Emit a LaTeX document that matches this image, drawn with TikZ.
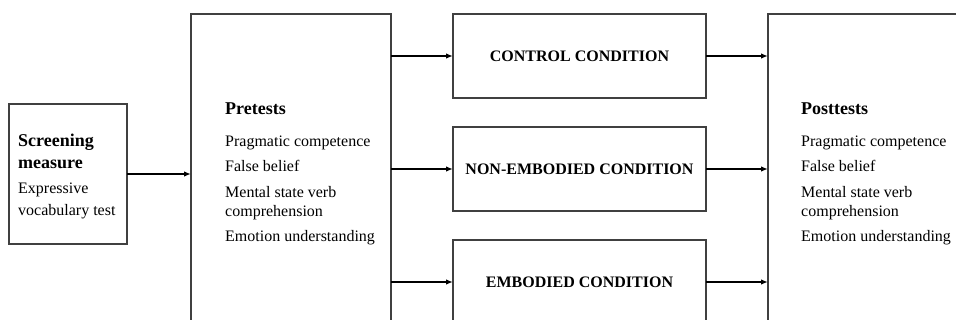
\documentclass[tikz,border=0pt]{standalone}
\usepackage{fontspec}
\setmainfont{Liberation Serif}
\usetikzlibrary{arrows.meta}

\newcommand\headtxt[1]{{\fontsize{18}{19}\selectfont\bfseries #1}}

\tikzset{
  box/.style={draw=black!75, line width=1.2pt, inner sep=0pt, outer sep=0pt, anchor=north west},
  cond/.style={box, minimum width=253pt, minimum height=84pt, font=\fontsize{16}{19}\selectfont\bfseries},
  tall/.style={box, minimum width=200pt, minimum height=316pt},
  txt/.style={align=left, inner sep=0pt, anchor=north west, font=\fontsize{16}{19}\selectfont},
  flow/.style={line width=1.7pt, -{Latex[length=7pt,width=5.5pt]}},
}

\begin{document}
\begin{tikzpicture}[x=1pt, y=-1pt]
\useasboundingbox (0,0) rectangle (956,320);
\clip (0,0) rectangle (956,320);

% boxes
\node[box, minimum width=118pt, minimum height=140pt] (screen) at (9,104) {};
\node[tall] (pre) at (191,14) {};
\node[cond] (ctrl) at (453,14) {CONTROL CONDITION};
\node[cond] (nonemb) at (453,127) {NON-EMBODIED CONDITION};
\node[cond] (emb) at (453,240) {EMBODIED CONDITION};
\node[tall] (post) at (768,14) {};

% texts
\node[txt] (screentxt) at (18,134) {\headtxt{Screening}\\[3pt] \headtxt{measure}\\[6pt]
  Expressive\\[3pt] vocabulary test};
\node[txt] (pretxt) at (225,102.5) {\headtxt{Pretests}\\[13pt] Pragmatic competence\\[6pt]
  False belief\\[7pt] Mental state verb\\ comprehension\\[6pt] Emotion understanding};
\node[txt] (posttxt) at (801,102.5) {\headtxt{Posttests}\\[13pt] Pragmatic competence\\[6pt]
  False belief\\[7pt] Mental state verb\\ comprehension\\[6pt] Emotion understanding};

% arrows
\draw[flow] (screen.east) -- (pre.west |- screen.east);
\foreach \c in {ctrl,nonemb,emb}{
  \draw[flow] (pre.east |- \c.west) -- (\c.west);
  \draw[flow] (\c.east) -- (post.west |- \c.east);
}
\end{tikzpicture}
\end{document}
